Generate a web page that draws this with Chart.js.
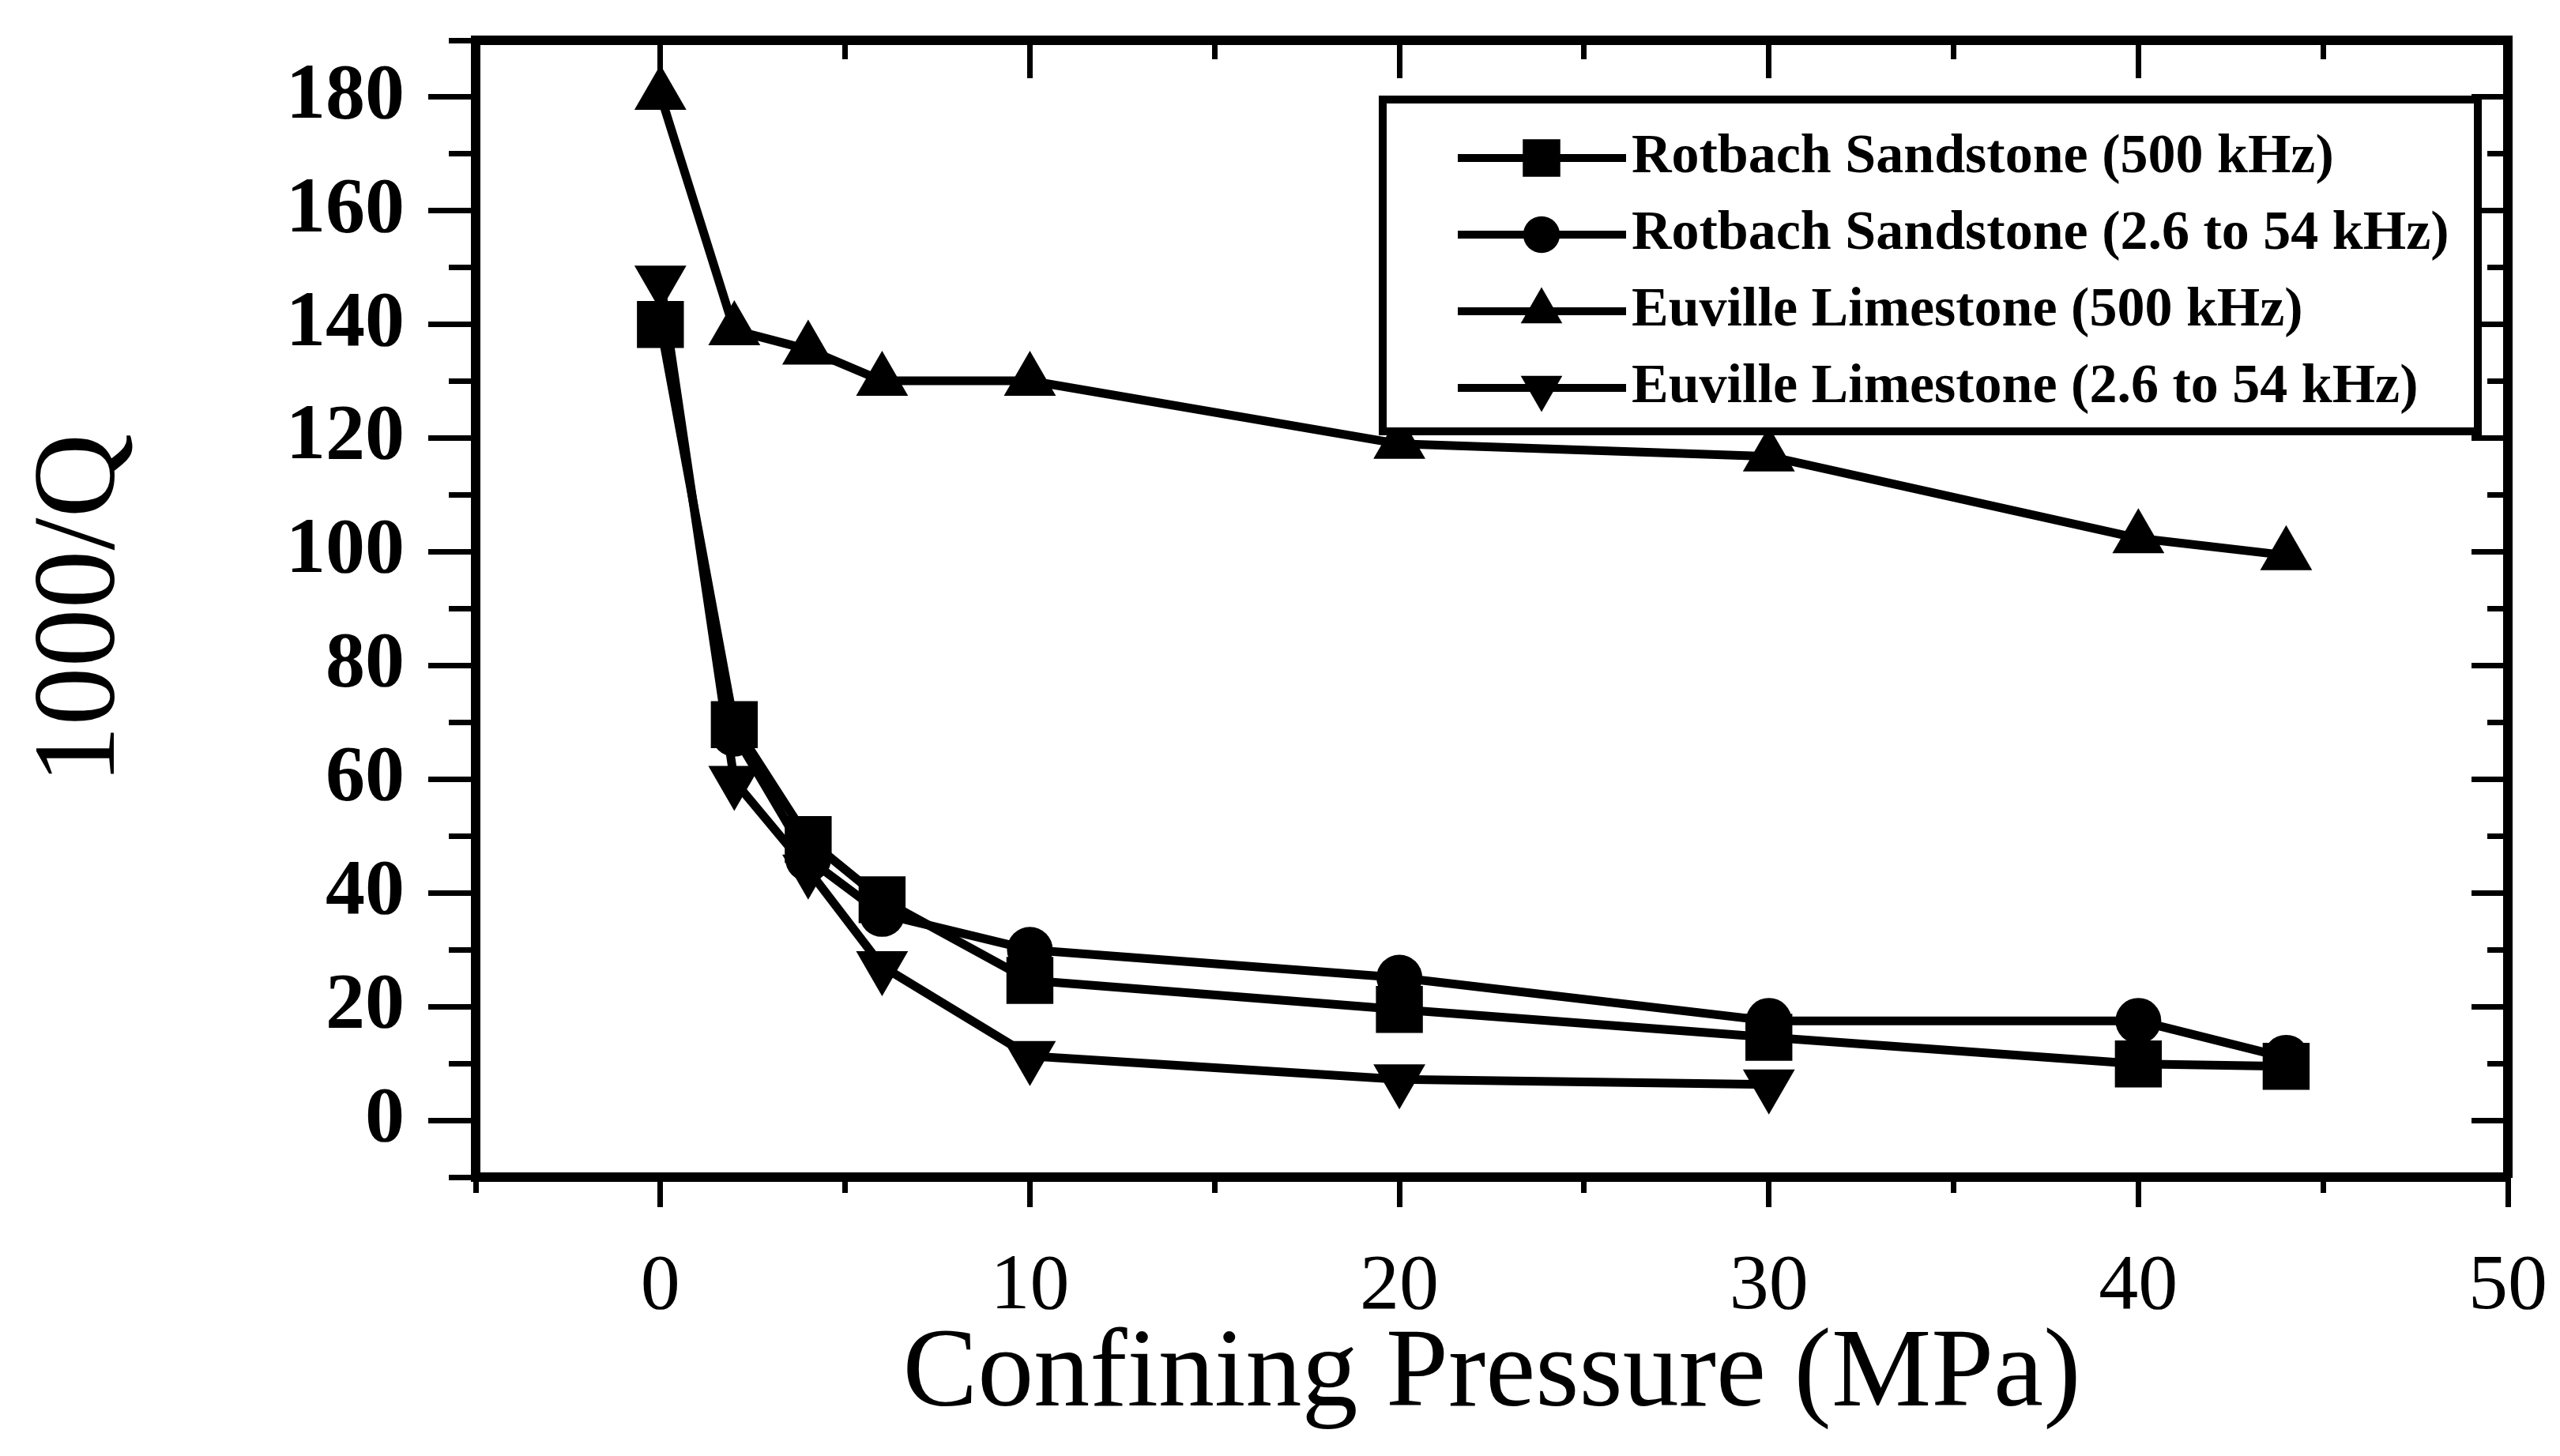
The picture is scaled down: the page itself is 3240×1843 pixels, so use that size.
<!DOCTYPE html>
<html>
<head>
<meta charset="utf-8">
<title>1000/Q vs Confining Pressure</title>
<script src="https://cdn.jsdelivr.net/npm/chart.js@4.4.0/dist/chart.umd.min.js"></script>
<style>
  html, body { margin: 0; padding: 0; background: #fff; }
  canvas { display: block; }
</style>
</head>
<body>
<canvas id="qChart" width="3240" height="1843"></canvas>
<script>
// confining pressure (MPa) of each measurement
const pressureRotbach500 = [0, 2, 4, 6, 10, 20, 30, 40, 44];
const pressureRotbachLow = [2, 4, 6, 10, 20, 30, 40, 44];
const pressureEuville500 = [0, 2, 4, 6, 10, 20, 30, 40, 44];
const pressureEuvilleLow = [0, 2, 4, 6, 10, 20, 30];

// attenuation, 1000/Q
const qRotbach500 = [140, 69.6, 49.4, 38.8, 24.6, 19.5, 14.6, 9.9, 9.5];
const qRotbachLow = [68, 46, 36.3, 30, 25.1, 17.5, 17.5, 11];
const qEuville500 = [180.4, 139, 135.6, 130.1, 130.1, 119, 116.8, 102.4, 99.4];
const qEuvilleLow = [147.7, 59.7, 44.1, 27.1, 11.3, 7.2, 6.3];

const seriesNames = [
  "Rotbach Sandstone (500 kHz)",
  "Rotbach Sandstone (2.6 to 54 kHz)",
  "Euville Limestone (500 kHz)",
  "Euville Limestone (2.6 to 54 kHz)"
];

// tick values
const xMajorTicks = [0, 10, 20, 30, 40, 50];
const xMinorTicks = [-5, 0, 5, 10, 15, 20, 25, 30, 35, 40, 45, 50];
const yMajorTicks = [0, 20, 40, 60, 80, 100, 120, 140, 160, 180];
const yMinorTicks = [-10, 0, 10, 20, 30, 40, 50, 60, 70, 80, 90, 100, 110, 120, 130, 140, 150, 160, 170, 180, 190];

const SERIF = "'Liberation Serif', 'Times New Roman', serif";

const toPoints = (xs, ys) => xs.map((x, i) => ({ x: x, y: ys[i] }));
const fixedTicks = values => scale => { scale.ticks = values.map(v => ({ value: v })); };

// pin an axis to a fixed thickness and drop the label overhang padding
const pinSize = size => s => {
  if (s.isHorizontal()) s.height = size; else s.width = size;
  s.paddingLeft = 0; s.paddingRight = 0; s.paddingTop = 0; s.paddingBottom = 0;
};

const markers = [
  { pointStyle: "rect", radius: 42, rotation: 0 },
  { pointStyle: "circle", radius: 29, rotation: 0 },
  { pointStyle: "triangle", radius: 38, rotation: 0 },
  { pointStyle: "triangle", radius: 38, rotation: 180 }
];

const seriesData = [
  toPoints(pressureRotbach500, qRotbach500),
  toPoints(pressureRotbachLow, qRotbachLow),
  toPoints(pressureEuville500, qEuville500),
  toPoints(pressureEuvilleLow, qEuvilleLow)
];

const datasets = seriesData.map((data, i) => ({
  label: seriesNames[i],
  data: data,
  xAxisID: "x",
  yAxisID: "y",
  showLine: true,
  borderColor: "#000",
  borderWidth: 11,
  borderJoinStyle: "round",
  backgroundColor: "#000",
  pointStyle: markers[i].pointStyle,
  pointRadius: markers[i].radius,
  pointRotation: markers[i].rotation,
  pointBackgroundColor: "#000",
  pointBorderColor: "#000",
  pointBorderWidth: 0,
  tension: 0,
  fill: false
}));

// tick-only axes glued to the frame edges (minor ticks, top and right sides)
function edgeAxis(axis, position, range, values, tickLength, weight, border) {
  return {
    type: "linear",
    axis: axis,
    position: position,
    weight: weight,
    min: range[0],
    max: range[1],
    afterBuildTicks: fixedTicks(values),
    afterFit: pinSize(0),
    grid: { drawOnChartArea: false, color: "#000", tickLength: tickLength, tickWidth: 7 },
    border: border ? { display: true, color: "#000", width: 12 } : { display: false },
    ticks: { display: false }
  };
}

// legend box with line + marker samples
const frameLegend = {
  id: "frameLegend",
  afterDraw(chart) {
    const ctx = chart.ctx;
    const box = { left: 1750, top: 126, right: 3136, bottom: 546 };
    ctx.save();
    ctx.fillStyle = "#fff";
    ctx.fillRect(box.left, box.top, box.right - box.left, box.bottom - box.top);
    ctx.strokeStyle = "#000";
    ctx.lineWidth = 10;
    ctx.strokeRect(box.left, box.top, box.right - box.left, box.bottom - box.top);

    ctx.font = "bold 70px " + SERIF;
    ctx.textBaseline = "middle";
    ctx.textAlign = "left";
    chart.data.datasets.forEach((ds, i) => {
      const y = 200 + i * 97;
      ctx.strokeStyle = "#000";
      ctx.lineWidth = 10;
      ctx.beginPath();
      ctx.moveTo(1845, y);
      ctx.lineTo(2058, y);
      ctx.stroke();
      ctx.fillStyle = "#000";
      Chart.helpers.drawPoint(ctx, {
        pointStyle: ds.pointStyle,
        radius: ds.pointRadius * 0.8,
        rotation: ds.pointRotation,
        borderWidth: 0
      }, 1951, y);
      ctx.fillStyle = "#000";
      ctx.fillText(ds.label, 2065, y);
    });
    ctx.restore();
  }
};

new Chart(document.getElementById("qChart"), {
  type: "scatter",
  data: { datasets: datasets },
  options: {
    responsive: false,
    animation: false,
    devicePixelRatio: 1,
    layout: { padding: { left: 0, right: 66, top: 51, bottom: 0 } },
    plugins: {
      legend: { display: false },
      tooltip: { enabled: false }
    },
    scales: {
      x: {
        type: "linear",
        axis: "x",
        position: "bottom",
        weight: 1,
        min: -5,
        max: 50,
        afterBuildTicks: fixedTicks(xMajorTicks),
        afterFit: pinSize(353),
        grid: { drawOnChartArea: false, color: "#000", tickLength: 38, tickWidth: 7 },
        border: { display: true, color: "#000", width: 12 },
        ticks: {
          autoSkip: false,
          maxRotation: 0,
          color: "#000",
          padding: 42,
          font: { family: SERIF, size: 100, weight: "normal" }
        },
        title: {
          display: true,
          text: "Confining Pressure (MPa)",
          color: "#000",
          font: { family: SERIF, size: 142, weight: "normal" },
          padding: { top: 0, bottom: 16 }
        }
      },
      xMinor: edgeAxis("x", "bottom", [-5, 50], xMinorTicks, 20, 0, false),
      xTop: edgeAxis("x", "top", [-5, 50], xMajorTicks, -48, 1, true),
      xTopMinor: edgeAxis("x", "top", [-5, 50], xMinorTicks, -24, 0, false),
      y: {
        type: "linear",
        axis: "y",
        position: "left",
        weight: 1,
        min: -10,
        max: 190,
        afterBuildTicks: fixedTicks(yMajorTicks),
        afterFit: pinSize(602),
        grid: { drawOnChartArea: false, color: "#000", tickLength: 60, tickWidth: 7 },
        border: { display: true, color: "#000", width: 12 },
        ticks: {
          autoSkip: false,
          color: "#000",
          padding: 30,
          font: { family: SERIF, size: 100, weight: "bold" }
        },
        title: {
          display: true,
          text: "1000/Q",
          color: "#000",
          font: { family: SERIF, size: 148, weight: "normal" },
          padding: { top: 16, bottom: 0 }
        }
      },
      yMinor: edgeAxis("y", "left", [-10, 190], yMinorTicks, 34, 0, false),
      yRight: edgeAxis("y", "right", [-10, 190], yMajorTicks, -46, 1, true),
      yRightMinor: edgeAxis("y", "right", [-10, 190], yMinorTicks, -26, 0, false)
    }
  },
  plugins: [frameLegend]
});
</script>
</body>
</html>
